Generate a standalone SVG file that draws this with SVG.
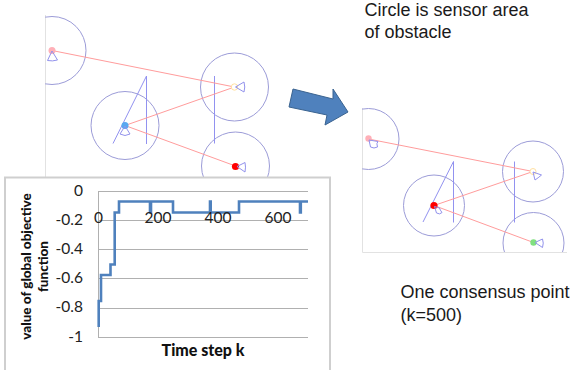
<svg xmlns="http://www.w3.org/2000/svg" width="572" height="370" viewBox="0 0 572 370">
  <style>
    .axis { fill: none; stroke: #e2e2e2; stroke-width: 1; }
    .zone { fill: none; stroke: #9c9cd8; stroke-width: 1; }
    .wall { fill: none; stroke: #9292f0; stroke-width: 1; }
    .fan { fill: none; stroke: #9292ec; stroke-width: 1; }
    .link { fill: none; stroke: #ff9c9c; stroke-width: 1; }
    .grid { fill: none; stroke: #b0b0b0; stroke-width: 1; }
    .note { font-family: "Liberation Sans", Arial, sans-serif; font-size: 18px; fill: #1a1a1a; }
    .tick { font-family: Lato, "Open Sans", sans-serif; font-size: 15.5px; fill: #222; }
    .ytitle { font-family: Lato, "Open Sans", sans-serif; font-size: 13.5px; font-weight: 900; fill: #111; text-anchor: middle; }
    .xtitle { font-family: Lato, "Open Sans", sans-serif; font-size: 16px; font-weight: 900; fill: #111; text-anchor: middle; }
  </style>
  <defs>
    <clipPath id="clipLeft"><rect x="45" y="0" width="245" height="178"/></clipPath>
    <clipPath id="clipRight"><rect x="362" y="100" width="210" height="152"/></clipPath>
  </defs>
  <rect width="572" height="370" fill="#ffffff"/>

  <g id="scene-before">
    <path class="axis" d="M45.5 15V177"/>
    <g clip-path="url(#clipLeft)">
      <g id="before-obstacles">
        <circle class="zone" cx="52" cy="50.5" r="34"/>
        <circle class="zone" cx="125" cy="125.5" r="34"/>
        <circle class="zone" cx="234.5" cy="87" r="34"/>
        <circle class="zone" cx="235.5" cy="166" r="34"/>
      </g>
      <g id="before-walls">
        <path class="wall" d="M113 143.5L146.5 76V144"/>
        <path class="wall" d="M214.5 76V143.5"/>
      </g>
      <g id="before-links">
        <path class="link" d="M52 50.5L234.5 87"/>
        <path class="link" d="M125 125.5L234.5 87"/>
        <path class="link" d="M125 125.5L235.5 166"/>
      </g>
      <g id="before-agents">
        <circle cx="52" cy="50.5" r="3.5" fill="#ffb0b8"/>
        <circle cx="125" cy="125.5" r="3.5" fill="#5aa8f0"/>
        <circle cx="234.5" cy="87" r="3.2" fill="#fff" stroke="#ffe0a0"/>
        <circle cx="235.5" cy="166.5" r="3.6" fill="#ff0000"/>
        <path class="fan" d="M52 51L47.5 60.5Q52.5 61.5 57.5 60Z"/>
        <path class="fan" d="M125 126L120 134Q125 137 130 134Z"/>
        <path class="fan" d="M235.5 87L244 82Q245.5 87 244 92Z"/>
        <path class="fan" d="M237 166.5L245 162.5Q246 167 245 172Z"/>
      </g>
    </g>
  </g>

  <g id="scene-after">
    <path class="axis" d="M362.5 108V252.5H567"/>
    <g clip-path="url(#clipRight)">
      <g id="after-obstacles">
        <circle class="zone" cx="368.5" cy="139" r="30.5"/>
        <circle class="zone" cx="434" cy="205.5" r="30.5"/>
        <circle class="zone" cx="533" cy="171.5" r="30.5"/>
        <circle class="zone" cx="533.5" cy="243" r="30.5"/>
      </g>
      <g id="after-walls">
        <path class="wall" d="M423 222L453.5 161.5V222.5"/>
        <path class="wall" d="M514.5 161.5V222.5"/>
      </g>
      <g id="after-links">
        <path class="link" d="M368.5 139L533 171.5"/>
        <path class="link" d="M434 205.5L533 171.5"/>
        <path class="link" d="M434 205.5L533.5 242.5"/>
      </g>
      <g id="after-agents">
        <circle cx="368.5" cy="138.5" r="3.2" fill="#ffb0b8"/>
        <circle cx="434" cy="205.5" r="3.6" fill="#ff0000"/>
        <circle cx="533" cy="171.5" r="3" fill="#fff" stroke="#ffe0a0"/>
        <circle cx="533.5" cy="242.5" r="3.2" fill="#80e080"/>
        <path class="fan" d="M369 140L370.5 147Q374 149 377.5 147Q376 143 378 141.5Z"/>
        <path class="fan" d="M434.5 206.5L436.5 213Q440 215 442 212.5Q440 210 439.5 208Z"/>
        <path class="fan" d="M533 172L535 180Q538 178 541.5 175Z"/>
        <path class="fan" d="M535 242.5L542.5 239Q544 243 542.5 247.5Z"/>
      </g>
    </g>
  </g>

  <g id="arrow">
    <polygon points="293,89 333,99 333,89 348,112 325,125 327,115 289,107" fill="#4f81bd" stroke="#3a6390" stroke-width="1"/>
  </g>

  <g id="chart">
    <rect x="5" y="177.5" width="325" height="196" fill="#ffffff" stroke="#cfcfcf" stroke-width="2"/>
    <path class="grid" d="M98 191.5H308M98 220.5H308M98 249.5H308M98 278.5H308M98 308.5H308M98 337.5H308M98.5 191V338"/>
    <path id="series" d="M98.7 327V301H101V275H110.5V264.5H114.7V212.5H119V201.5H150V212.5H151V201.5H173V212.5H210V201.5H210.7V212.5H239V201.5H300V212.5H300.8V201.5H308" fill="none" stroke="#4f81bd" stroke-width="2.6"/>
    <g class="tick" text-anchor="end">
      <text x="83" y="196">0</text>
      <text x="83" y="225">-0.2</text>
      <text x="83" y="254">-0.4</text>
      <text x="83" y="283">-0.6</text>
      <text x="83" y="312">-0.8</text>
      <text x="83" y="342">-1</text>
    </g>
    <g class="tick" text-anchor="middle">
      <text x="98.5" y="223">0</text>
      <text x="158" y="223">200</text>
      <text x="218" y="223">400</text>
      <text x="278" y="223">600</text>
    </g>
    <text class="ytitle" transform="translate(31,266.5) rotate(-90)">value of global objective</text>
    <text class="ytitle" transform="translate(48,266.5) rotate(-90)">function</text>
    <text class="xtitle" x="203" y="356">Time step k</text>
  </g>

  <g id="notes">
    <text class="note" x="364.5" y="16">Circle is sensor area</text>
    <text class="note" x="364.5" y="38">of obstacle</text>
    <text class="note" x="400.5" y="298">One consensus point</text>
    <text class="note" x="400.5" y="321">(k=500)</text>
  </g>
</svg>
